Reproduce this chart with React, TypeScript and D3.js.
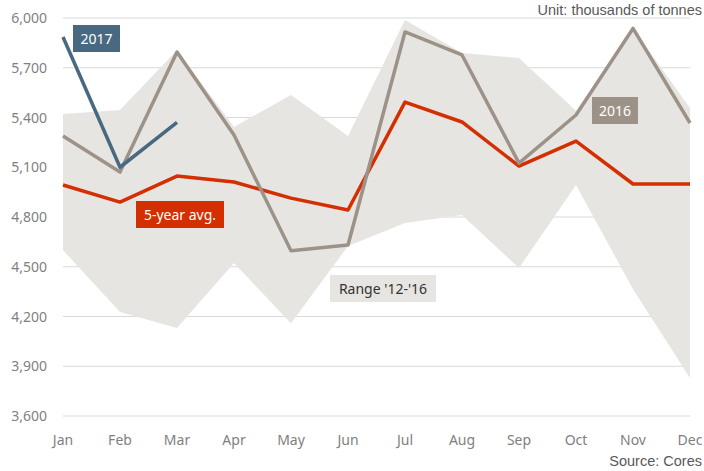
import * as d3 from 'd3'
import { FC } from 'react'

const months = ['Jan', 'Feb', 'Mar', 'Apr', 'May', 'Jun', 'Jul', 'Aug', 'Sep', 'Oct', 'Nov', 'Dec']
const yTicks = [3600, 3900, 4200, 4500, 4800, 5100, 5400, 5700, 6000]

// range '12-'16 (min / max)
const rangeLow = [4600, 4227, 4130, 4522, 4160, 4625, 4764, 4812, 4492, 4993, 4365, 3829]
const rangeHigh = [5421, 5445, 5805, 5343, 5536, 5288, 5988, 5789, 5759, 5440, 5937, 5457]
const avg5 = [4993, 4890, 5047, 5011, 4914, 4842, 5493, 5373, 5107, 5258, 4999, 4999]
const y2016 = [5288, 5071, 5795, 5294, 4597, 4631, 5916, 5777, 5125, 5415, 5937, 5367]
const y2017 = [5885, 5100, 5370]

const W = 704
const H = 471
const margin = { left: 63, right: 14, top: 18, bottom: 55 }

const App: FC = () => {
    const x = d3.scalePoint<string>()
        .domain(months)
        .range([margin.left, W - margin.right])
    const y = d3.scaleLinear()
        .domain([3600, 6000])
        .range([H - margin.bottom, margin.top])

    const area = d3.area<number>()
        .x((_, i) => x(months[i])!)
        .y0((_, i) => y(rangeLow[i]))
        .y1(d => y(d))
    const line = d3.line<number>()
        .x((_, i) => x(months[i])!)
        .y(d => y(d))

    const tickFont = '"Noto Sans", sans-serif'

    const label = (text: string, bx: number, by: number, w: number, bg: string, fg: string) => (
        <g>
            <rect x={bx} y={by} width={w} height={27} fill={bg} />
            <text x={bx + w / 2} y={by + 18.5} textAnchor="middle" fontFamily={tickFont} fontSize={14} fill={fg}>{text}</text>
        </g>
    )

    return (
        <svg width={W} height={H} style={{ position: 'absolute', left: 0, top: 0 }}>
            <rect width={W} height={H} fill="#fff" />
            {yTicks.map(t => (
                <g key={t}>
                    <line x1={margin.left} x2={W - margin.right} y1={y(t)} y2={y(t)} stroke="#d9d9d9" strokeWidth={1.2} />
                    <text x={47} y={y(t) + 5} textAnchor="end" fontFamily={tickFont} fontSize={14} fill="#7f7f7f">
                        {d3.format(',')(t)}
                    </text>
                </g>
            ))}
            {months.map(m => (
                <text key={m} x={x(m)} y={445} textAnchor="middle" fontFamily={tickFont} fontSize={14} fill="#7f7f7f">{m}</text>
            ))}
            <path d={area(rangeHigh)!} fill="#e7e5e2" />
            <path d={line(avg5)!} fill="none" stroke="#d32f00" strokeWidth={3.5} strokeLinejoin="round" />
            <path d={line(y2016)!} fill="none" stroke="#9c9288" strokeWidth={3.5} strokeLinejoin="round" />
            <path d={line(y2017)!} fill="none" stroke="#48697f" strokeWidth={3.5} strokeLinejoin="round" />
            {label('2017', 73, 25, 47, '#48697f', '#fff')}
            {label('5-year avg.', 136, 201, 88, '#d32f00', '#fff')}
            {label('2016', 592, 97, 46, '#9c9288', '#fff')}
            {label("Range '12-'16", 330, 275, 106, '#e7e5e2', '#333')}
            <text x={702} y={15} textAnchor="end" fontFamily='"Liberation Sans", Arial, sans-serif' fontSize={14.5} fill="#595959">
                Unit: thousands of tonnes
            </text>
            <text x={702} y={466} textAnchor="end" fontFamily='"Liberation Sans", Arial, sans-serif' fontSize={14.5} fill="#595959">
                Source: Cores
            </text>
        </svg>
    )
}

export default App
